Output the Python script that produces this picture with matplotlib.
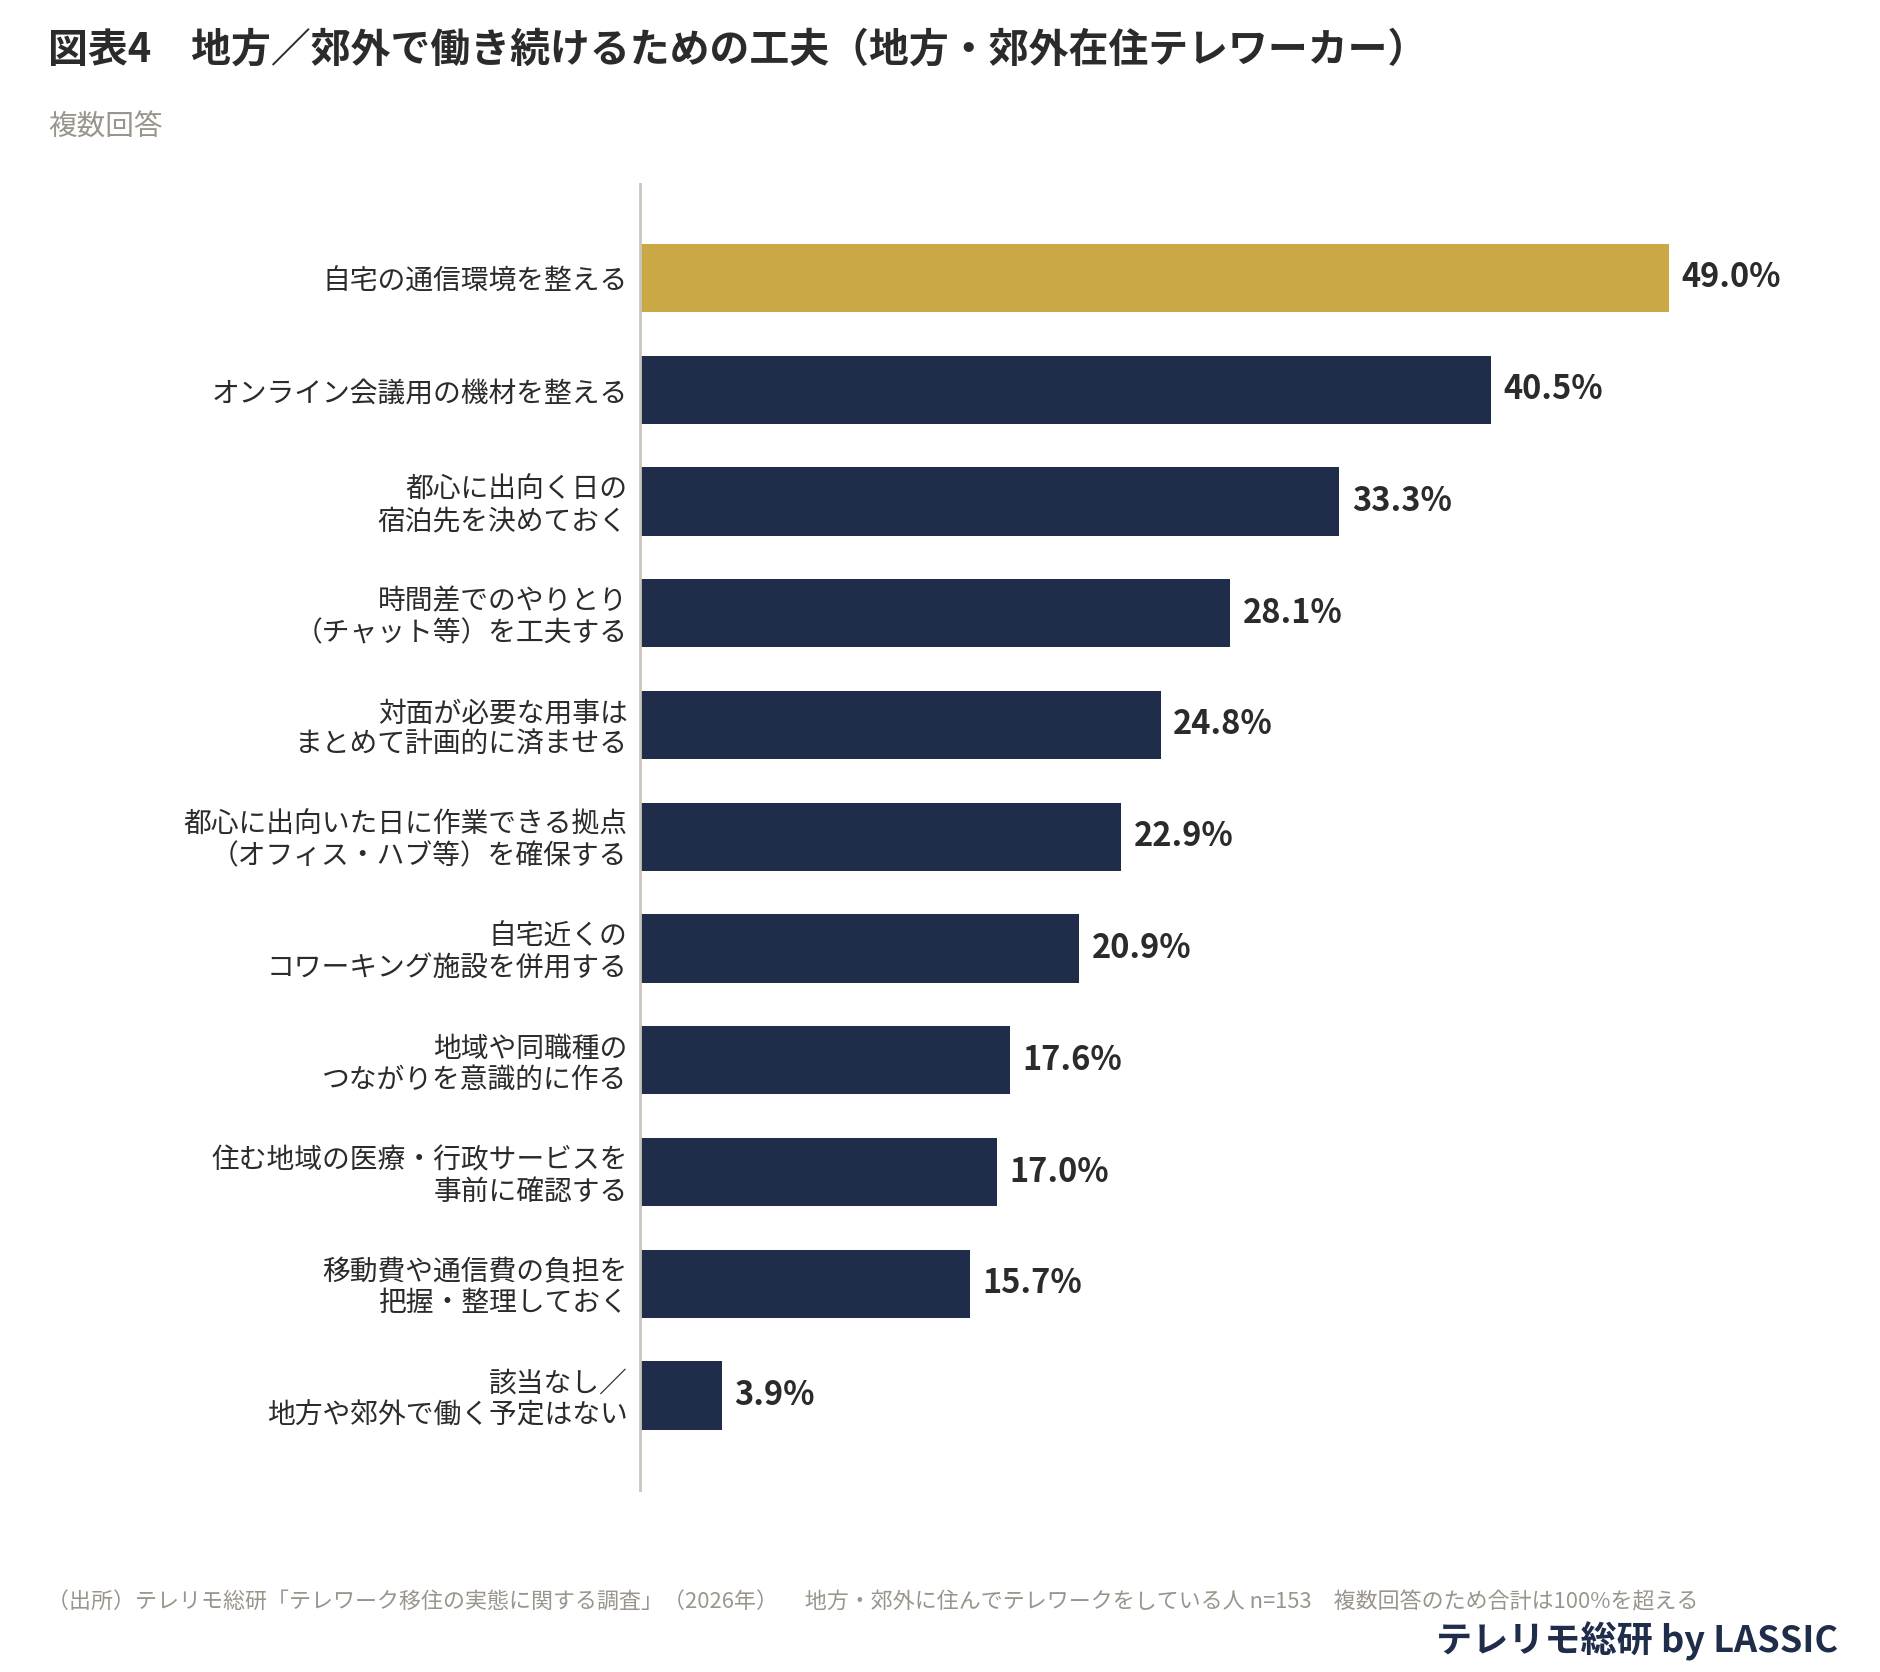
import matplotlib
matplotlib.use("Agg")
import matplotlib.pyplot as plt

plt.rcParams['font.family'] = ['Noto Sans CJK JP', 'DejaVu Sans']

categories = [
    "自宅の通信環境を整える",
    "オンライン会議用の機材を整える",
    "都心に出向く日の\n宿泊先を決めておく",
    "時間差でのやりとり\n（チャット等）を工夫する",
    "対面が必要な用事は\nまとめて計画的に済ませる",
    "都心に出向いた日に作業できる拠点\n（オフィス・ハブ等）を確保する",
    "自宅近くの\nコワーキング施設を併用する",
    "地域や同職種の\nつながりを意識的に作る",
    "住む地域の医療・行政サービスを\n事前に確認する",
    "移動費や通信費の負担を\n把握・整理しておく",
    "該当なし／\n地方や郊外で働く予定はない",
]
values = [49.0, 40.5, 33.3, 28.1, 24.8, 22.9, 20.9, 17.6, 17.0, 15.7, 3.9]
highlight = [True] + [False] * 10

title = "図表4　地方／郊外で働き続けるための工夫（地方・郊外在住テレワーカー）"
subtitle = "複数回答"
footer = ("（出所）テレリモ総研「テレワーク移住の実態に関する調査」（2026年）　 "
          "地方・郊外に住んでテレワークをしている人 n=153　複数回答のため合計は100%を超える")
brand = "テレリモ総研 by LASSIC"

GOLD = "#C9A845"
NAVY = "#1F2D4A"
TEXT = "#2B2B2B"
GRAY = "#9A958C"
AXIS = "#C9C5BC"

fig = plt.figure(figsize=(18.8, 16.72), dpi=100)
fig.patch.set_facecolor("white")

ax = fig.add_axes([640/1880, 1 - 1490/1672, 1200/1880, (1490 - 184)/1672])
n = len(categories)
ypos = list(range(n))
colors = [GOLD if h else NAVY for h in highlight]
ax.barh(ypos, values, height=0.61, color=colors, zorder=2)

ax.set_xlim(0, 1200/21.0)
ax.set_ylim(n - 1 + 0.845, -0.84)
ax.set_yticks(ypos)
ax.set_yticklabels(categories, fontsize=20, color=TEXT, linespacing=1.05)
ax.tick_params(axis='y', length=0, pad=9)
ax.set_xticks([])
for s in ["top", "right", "bottom"]:
    ax.spines[s].set_visible(False)
ax.spines["left"].set_color(AXIS)
ax.spines["left"].set_linewidth(2.0)
ax.spines["left"].set_zorder(3)

for y, v in zip(ypos, values):
    ax.annotate(f"{v:.1f}%", xy=(v, y), xytext=(9, 0), textcoords="offset points",
                ha="left", va="center", fontsize=23.5, fontweight="bold", color=TEXT)

fig.text(48/1880, 1 - 50/1672, title, fontsize=28.7, fontweight="bold", color=TEXT,
         ha="left", va="center")
fig.text(48/1880, 1 - 128/1672, subtitle, fontsize=20.6, color=GRAY, ha="left", va="center")
fig.text(47/1880, 1 - 1602/1672, footer, fontsize=15.8, color=GRAY, ha="left", va="center")
fig.text(1838/1880, 1 - 1641/1672, brand, fontsize=26, fontweight="bold", color=NAVY,
         ha="right", va="center")

fig.savefig("out.png", dpi=100, facecolor="white")
